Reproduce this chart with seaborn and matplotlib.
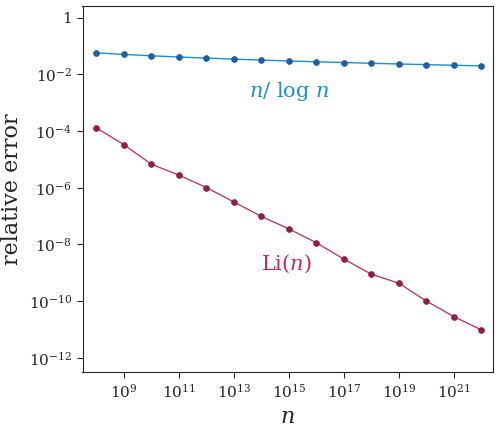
import numpy as np
import matplotlib
matplotlib.use("Agg")
import matplotlib.pyplot as plt
import seaborn as sns

exponents = list(range(8, 23))
err_nlogn = [0.0578, 0.0510, 0.0456, 0.0413, 0.0377, 0.0347, 0.0321, 0.0299, 0.0280,
             0.0263, 0.0248, 0.0234, 0.0222, 0.0211, 0.0201]
err_li = [1.31e-4, 3.35e-5, 6.8e-6, 2.81e-6, 1.02e-6, 3.15e-7, 9.8e-8, 3.53e-8, 1.15e-8,
          3.03e-9, 8.9e-10, 4.27e-10, 1.0e-10, 2.83e-11, 9.6e-12]
xtick_exp = [9, 11, 13, 15, 17, 19, 21]
ytick_exp = [0, -2, -4, -6, -8, -10, -12]

sns.set_style("ticks")
plt.rcParams['font.family'] = ['DejaVu Serif']
plt.rcParams['mathtext.fontset'] = 'dejavuserif'

n = [10.0 ** e for e in exponents]
fig, ax = plt.subplots(figsize=(5, 4.3), dpi=100)
sns.lineplot(x=n, y=err_nlogn, ax=ax, color="#1a8fcf", lw=1, marker="o", markersize=4,
             markerfacecolor="#1f5f9f", markeredgecolor="#1f5f9f")
sns.lineplot(x=n, y=err_li, ax=ax, color="#c8285a", lw=0.9, marker="o", markersize=4,
             markerfacecolor="#8e1f45", markeredgecolor="#8e1f45")
ax.set_xscale("log"); ax.set_yscale("log")
ax.set_xlim(10 ** 7.5, 10 ** 22.4)
ax.set_ylim(10 ** -12.5, 10 ** 0.4)
ax.set_xticks([10.0 ** e for e in xtick_exp])
ax.set_xticklabels([f"$10^{{{e}}}$" for e in xtick_exp])
ax.set_yticks([10.0 ** e for e in ytick_exp])
ax.set_yticklabels(["1" if e == 0 else f"$10^{{{e}}}$" for e in ytick_exp])
ax.minorticks_off()
ax.tick_params(labelsize=11, length=4)
ax.set_xlabel("$n$", fontsize=16)
ax.set_ylabel("relative error", fontsize=16)
ax.text(10 ** 15.0, 10 ** -2.8, "$n$/ log $n$", color="#1a8fcf", fontsize=15, ha="center")
ax.text(10 ** 14.9, 10 ** -8.9, "Li($n$)", color="#c8285a", fontsize=15, ha="center")
fig.subplots_adjust(left=0.165, right=0.985, bottom=0.135, top=0.985)
fig.savefig("out.png")
